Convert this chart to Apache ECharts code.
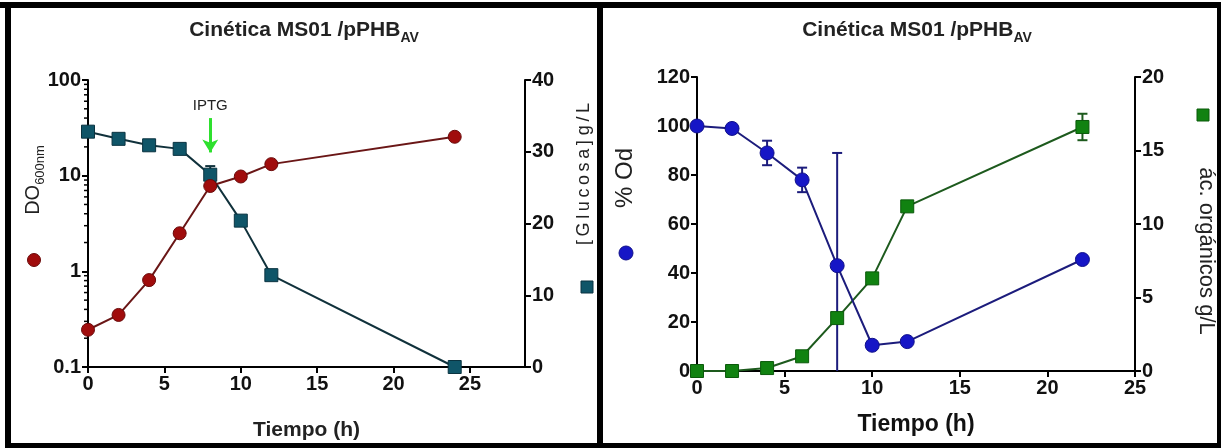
<!DOCTYPE html>
<html><head><meta charset="utf-8">
<script src="https://cdn.jsdelivr.net/npm/echarts@6/dist/echarts.min.js"></script>
<style>html,body{margin:0;padding:0;background:#fff}#c{width:1221px;height:448px}</style>
</head><body><div id="c"></div>
<script>
// ---- Data (left panel) ----
const tiempoA = [0, 2, 4, 6, 8, 10, 12, 24];
const doValues = [0.245, 0.35, 0.81, 2.5, 7.8, 9.8, 13.2, 25.5];
const glucosa = [32.8, 31.8, 30.9, 30.4, 26.8, 20.4, 12.8, 0];
const glucosaErr = [0, 0, 0, 0, 1.2, 0, 0.4, 0];
// ---- Data (right panel) ----
const tiempoB = [0, 2, 4, 6, 8, 10, 12, 22];
const odPct = [100, 99, 89, 78, 43, 10.5, 12, 45.5];
const odErr = [0, 0, 5, 5, 46, 0, 0, 0];
const organicos = [0, 0, 0.2, 1.0, 3.6, 6.3, 11.2, 16.6];
const organicosErr = [0, 0, 0, 0, 0, 0, 0, 0.9];
// ---- Tick labels ----
const xTicks = [0, 5, 10, 15, 20, 25];
const doTicks = [0.1, 1, 10, 100];
const doMinorTicks = [0.2,0.3,0.4,0.5,0.6,0.7,0.8,0.9,2,3,4,5,6,7,8,9,20,30,40,50,60,70,80,90];
const glucTicks = [0, 10, 20, 30, 40];
const odTicks = [0, 20, 40, 60, 80, 100, 120];
const orgTicks = [0, 5, 10, 15, 20];

const FF = '"Liberation Sans", Arial, sans-serif';
const FN = '"Liberation Sans Narrow", "Liberation Sans", Arial, sans-serif';
const C_DO = '#a00c0c', C_DO_L = '#6a1616';
const C_GL = '#0f5568', C_GL_L = '#10313b';
const C_OD = '#1616c6', C_OD_L = '#1c1c7c';
const C_OR = '#118211', C_OR_L = '#1d5a1d';
const spaced = s => s.split('').join('\u2009');

const pairs = (xs, ys) => xs.map((x, i) => [x, ys[i]]);
const errData = (xs, ys, es, lowMin) => xs.map((x, i) => es[i] > 0 ? [x, Math.max(ys[i] - es[i], lowMin), ys[i] + es[i], ys[i] - es[i] < lowMin ? 1 : 0] : null).filter(Boolean);

function errRender(params, api) {
  const x = api.value(0), lo = api.value(1), hi = api.value(2), clipped = api.value(3);
  const a = api.coord([x, lo]), b = api.coord([x, hi]);
  const w = 5;
  const st = { stroke: api.visual('color'), lineWidth: 2 };
  const ch = [
    { type: 'line', shape: { x1: a[0], y1: a[1], x2: b[0], y2: b[1] }, style: st },
    { type: 'line', shape: { x1: b[0] - w, y1: b[1], x2: b[0] + w, y2: b[1] }, style: st }
  ];
  if (!clipped) ch.push({ type: 'line', shape: { x1: a[0] - w, y1: a[1], x2: a[0] + w, y2: a[1] }, style: st });
  return { type: 'group', children: ch };
}
function minorRender(params, api) {
  const p = api.coord([0, api.value(1)]);
  return { type: 'line', shape: { x1: p[0] - 4, y1: p[1], x2: p[0], y2: p[1] }, style: { stroke: '#000', lineWidth: 1.5 } };
}

const axisCommon = (fs) => ({
  axisLine: { lineStyle: { color: '#000', width: 2 } },
  axisTick: { length: 6, lineStyle: { color: '#000', width: 2 } },
  axisLabel: { color: '#111', fontWeight: 'bold', fontSize: fs, fontFamily: FF, margin: 7 },
  splitLine: { show: false }
});

const chart = echarts.init(document.getElementById('c'), null, { renderer: 'canvas' });

function titleEl(x) {
  return {
    type: 'text', x: x, y: 30, style: {
      text: '{t|Cinética MS01 /pPHB}{s|AV}', align: 'center', verticalAlign: 'middle',
      rich: {
        t: { fontFamily: FF, fontWeight: 'bold', fontSize: 21, fill: '#222', lineHeight: 22 },
        s: { fontFamily: FF, fontWeight: 'bold', fontSize: 14, fill: '#222', lineHeight: 30, verticalAlign: 'bottom' }
      }
    }
  };
}

const xA = Object.assign(axisCommon(20), {
  type: 'value', gridIndex: 0, min: 0, max: 28.6, interval: 5,
  name: 'Tiempo (h)', nameLocation: 'middle', nameGap: 53,
  nameTextStyle: { fontFamily: FF, fontWeight: 'bold', fontSize: 21, color: '#222' }
});
xA.axisLabel.customValues = xTicks;
xA.axisTick.customValues = xTicks;

const option = {
  animation: false,
  backgroundColor: '#fff',
  grid: [
    { left: 88, top: 80, width: 437, height: 287 },
    { left: 697, top: 77, width: 438, height: 294 }
  ],
  xAxis: [
    xA,
    Object.assign(axisCommon(20), {
      type: 'value', gridIndex: 1, min: xTicks[0], max: xTicks[xTicks.length - 1], interval: 5,
      name: 'Tiempo (h)', nameLocation: 'middle', nameGap: 42,
      nameTextStyle: { fontFamily: FF, fontWeight: 'bold', fontSize: 23, color: '#111' }
    })
  ],
  yAxis: [
    Object.assign(axisCommon(20), { type: 'log', logBase: 10, gridIndex: 0, min: doTicks[0], max: doTicks[doTicks.length - 1], position: 'left' }),
    Object.assign(axisCommon(20), { type: 'value', gridIndex: 0, min: glucTicks[0], max: glucTicks[glucTicks.length - 1], interval: 10, position: 'right' }),
    Object.assign(axisCommon(20), { type: 'value', gridIndex: 1, min: odTicks[0], max: odTicks[odTicks.length - 1], interval: 20, position: 'left' }),
    Object.assign(axisCommon(20), { type: 'value', gridIndex: 1, min: orgTicks[0], max: orgTicks[orgTicks.length - 1], interval: 5, position: 'right' })
  ],
  series: [
    { type: 'custom', xAxisIndex: 0, yAxisIndex: 0, renderItem: minorRender, data: doMinorTicks.map(v => [0, v]), silent: true, clip: false, z: 1 },
    { type: 'custom', xAxisIndex: 0, yAxisIndex: 1, renderItem: errRender, itemStyle: { color: C_GL_L }, data: errData(tiempoA, glucosa, glucosaErr, 0), z: 3 },
    { type: 'line', name: 'Glucosa', xAxisIndex: 0, yAxisIndex: 1, data: pairs(tiempoA, glucosa), symbol: 'rect', symbolSize: 13,
      itemStyle: { color: C_GL, borderColor: '#0a3340', borderWidth: 1 }, lineStyle: { color: C_GL_L, width: 2 }, z: 4 },
    { type: 'line', name: 'DO', xAxisIndex: 0, yAxisIndex: 0, data: pairs(tiempoA, doValues), symbol: 'circle', symbolSize: 13,
      itemStyle: { color: C_DO, borderColor: '#6a0a0a', borderWidth: 1 }, lineStyle: { color: C_DO_L, width: 2 }, z: 5,
      markLine: {
        silent: true, symbol: ['none', 'arrow'], symbolSize: [12, 13],
        lineStyle: { color: '#2ee02e', width: 3, type: 'solid' },
        label: { show: true, position: 'start', formatter: 'IPTG', color: '#222', fontSize: 15, fontFamily: FN, distance: 5 },
        data: [[{ coord: [8, 40] }, { coord: [8, 17.5] }]]
      } },
    { type: 'custom', xAxisIndex: 1, yAxisIndex: 2, renderItem: errRender, itemStyle: { color: C_OD_L }, data: errData(tiempoB, odPct, odErr, 0), z: 3 },
    { type: 'custom', xAxisIndex: 1, yAxisIndex: 3, renderItem: errRender, itemStyle: { color: C_OR_L }, data: errData(tiempoB, organicos, organicosErr, 0), z: 3 },
    { type: 'line', name: 'Ácidos', xAxisIndex: 1, yAxisIndex: 3, data: pairs(tiempoB, organicos), symbol: 'rect', symbolSize: 13,
      itemStyle: { color: C_OR, borderColor: '#0b5a0b', borderWidth: 1 }, lineStyle: { color: C_OR_L, width: 2 }, z: 4 },
    { type: 'line', name: '% Od', xAxisIndex: 1, yAxisIndex: 2, data: pairs(tiempoB, odPct), symbol: 'circle', symbolSize: 14,
      itemStyle: { color: C_OD, borderColor: '#10108a', borderWidth: 1 }, lineStyle: { color: C_OD_L, width: 2 }, z: 5 }
  ],
  graphic: [
    // frame
    { type: 'rect', shape: { x: 0, y: 2, width: 1221, height: 6 }, style: { fill: '#000' }, z: 100 },
    { type: 'rect', shape: { x: 5, y: 2, width: 6, height: 446 }, style: { fill: '#000' }, z: 100 },
    { type: 'rect', shape: { x: 5, y: 443, width: 1216, height: 5 }, style: { fill: '#000' }, z: 100 },
    { type: 'rect', shape: { x: 597, y: 2, width: 6, height: 446 }, style: { fill: '#000' }, z: 100 },
    { type: 'rect', shape: { x: 1217, y: 2, width: 4, height: 446 }, style: { fill: '#000' }, z: 100 },
    titleEl(304),
    titleEl(917),
    // axis titles & legend symbols
    { type: 'text', x: 33, y: 180, rotation: Math.PI / 2, style: {
        text: '{a|DO}{b|600nm}', align: 'center', verticalAlign: 'middle',
        rich: { a: { fontFamily: FF, fontSize: 20, fill: '#222', lineHeight: 22 }, b: { fontFamily: FF, fontSize: 13, fill: '#222', lineHeight: 28, verticalAlign: 'bottom' } } } },
    { type: 'circle', shape: { cx: 34, cy: 260, r: 6.5 }, style: { fill: C_DO, stroke: '#6a0a0a', lineWidth: 1 } },
    { type: 'text', x: 584, y: 174, rotation: Math.PI / 2, style: { text: spaced('[Glucosa]') + ' ' + spaced('g/L'), fontFamily: FF, fontSize: 18, fill: '#222', align: 'center', verticalAlign: 'middle' } },
    { type: 'rect', shape: { x: 581, y: 281, width: 12, height: 12 }, style: { fill: C_GL, stroke: '#0a3340', lineWidth: 1 } },
    { type: 'text', x: 625, y: 178, rotation: Math.PI / 2, style: { text: '% Od', fontFamily: FF, fontSize: 24, fill: '#222', align: 'center', verticalAlign: 'middle' } },
    { type: 'circle', shape: { cx: 626, cy: 253, r: 7 }, style: { fill: C_OD, stroke: '#10108a', lineWidth: 1 } },
    { type: 'text', x: 1206, y: 251, rotation: -Math.PI / 2, style: { text: 'ác. orgánicos g/L', fontFamily: FF, fontSize: 22, fill: '#222', align: 'center', verticalAlign: 'middle' } },
    { type: 'rect', shape: { x: 1197, y: 109, width: 12, height: 12 }, style: { fill: C_OR, stroke: '#0b5a0b', lineWidth: 1 } }
  ]
};
chart.setOption(option);
</script></body></html>
